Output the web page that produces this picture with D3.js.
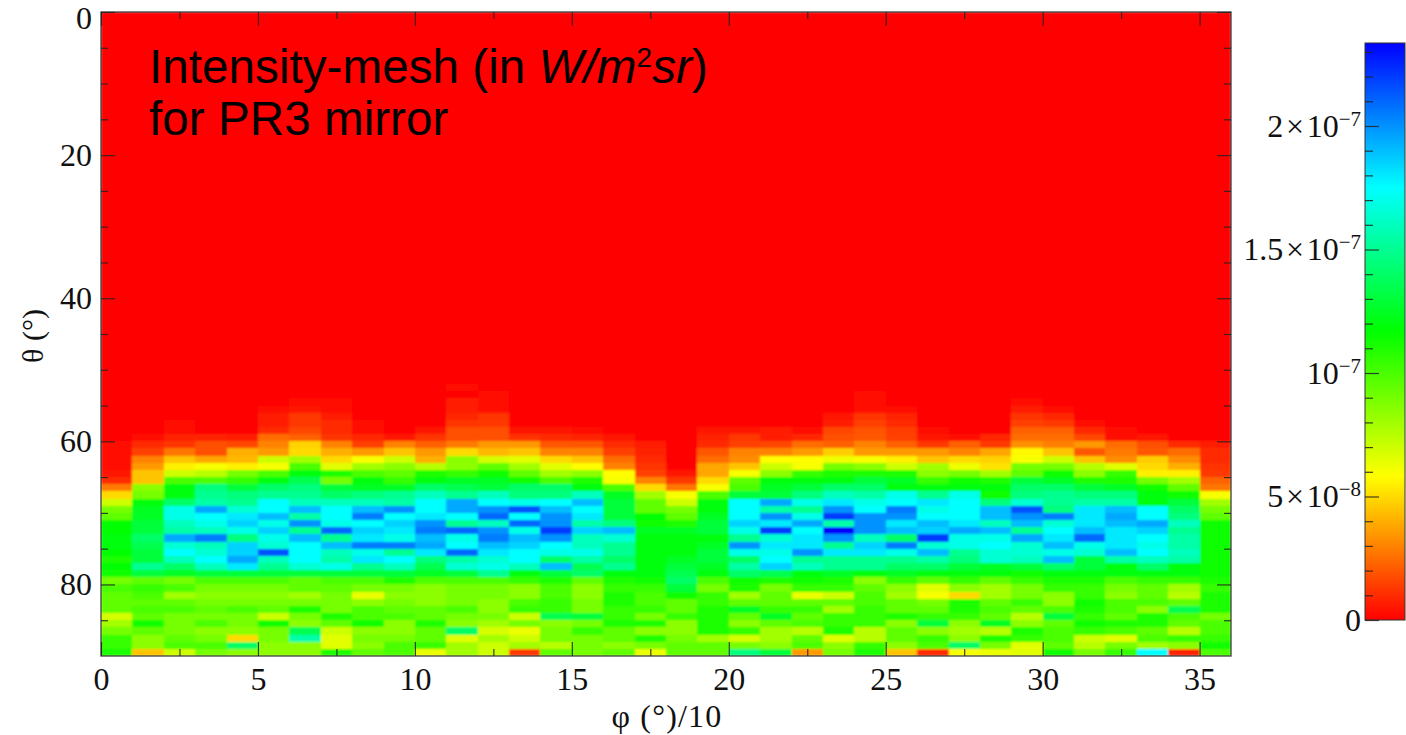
<!DOCTYPE html>
<html>
<head>
<meta charset="utf-8">
<title>Intensity mesh</title>
<script src="https://cdn.jsdelivr.net/npm/d3@7"></script>
<style>
    html, body { margin: 0; padding: 0; background: #fff; }
    svg { display: block; }
    .num { font-family: "Liberation Serif", serif; fill: #111; }
    .note { font-family: "Liberation Sans", Arial, sans-serif; fill: #000; }
</style>
</head>
<body>
<div id="chart"></div>
<script>
// intensity per phi bin, in units of 1e-8 W/m2sr.
// each list ends at theta = 89, everything above its first entry is 0
const phi00 = [.3,.3,.3,.3,.5,1,2.8,5,7,9,9.5,11.7,11.7,12,12,11.7,11,11.7,11.5,9,10,9.5,9.5,9.5,6.8,8,9,10.5,10.5,11]; // from 60
const phi01 = [.3,1,1.5,3,3.5,4.5,4.5,8.5,9,12,12.5,12.5,13,13,14,13.5,13,13,15,13,9.5,10.5,10,9.5,10,9.5,11.5,9.5,8.5,8.5,4.5]; // 59
const phi02 = [.2,.4,.8,1.2,2.7,4.5,5.5,7,10,12,12,14,17,17,16,15.5,19.5,16.5,17.5,16,14,12.5,9,10,8,9.5,10,9,9,9,9.5,10,7]; // 57
const phi03 = [.1,.8,1.8,1.8,3.8,6,7.5,10,14.5,15,15.5,19.5,17.5,17,16,20.5,16,16.5,17.5,16,13,10,9,8.5,9,9.5,9,10,8.5,9,10,9]; // 58
const phi04 = [.7,1.6,4,4.2,5.5,9,10.5,13,14.5,15,16.5,18,18.5,17,14.5,18.5,18.5,19.5,18,13,10,9,8.5,9,10,9,9,8.5,5,14,8.5]; // 59
const phi05 = [.2,.6,.7,1,2.5,3,3.5,7,6,10,12,14,15,17.5,17.5,19,17,18.5,17,16.5,21.5,16,15,13,10,9,8.5,9,9.5,7,11.5,9,9,8.5,8.5]; // 55
const phi06 = [.4,.5,1.3,1.3,1.6,2.2,4.8,5,8,10,12,13.5,14.5,15,16,19,15.5,20,15,19,17.5,17.5,17.5,16.5,13,9.5,9.5,8,9,11,9,8.5,13.5,15.5,8.5,8.5]; // 54
const phi07 = [.2,.3,.7,1,1,1.2,3,4,5,6.5,11,9,13,14,16,17.5,17.5,17,21,15,19,16,15.5,17,13,10,9.5,9,9,9,11,9.5,7,6.5,6.5,11]; // 54
const phi08 = [.2,.4,.9,1.5,3.5,6,8,10,12,12.5,14.5,16,19,20.5,17.5,18.5,18,20.5,17,18,15,13,10,9,6.3,8.5,10,10,11.5,8.5,9,8.5,9.5]; // 57
const phi09 = [.5,3,4.5,7,8.5,9.5,10.5,12.5,15,15.5,20,17.5,18.5,18,17,20.5,15,17.5,16,13,11,9,8.5,9,9.5,10,8.5,8.5,9,10,10]; // 59
const phi10 = [.5,1.2,2.2,3.5,4,7.5,11,12,14,16,17.5,17.5,18,20,20.5,19,19.5,18,14.5,13.5,12.5,10,8.5,8.5,8.5,9.5,9.5,11,9.5,9.5,10.5,6.3]; // 58
const phi11 = [.2,.1,.6,.7,.9,1.2,1.8,1.8,2.8,5,8.5,8.5,10.5,12.5,13.5,15,19.5,19.5,17.5,15,21,17,17.5,21,15.5,16.5,13,10,9,9,9,10,9,8.5,14,6.5,8,8]; // 52
const phi12 = [.2,.4,.3,1.2,1.3,1.8,1.8,3.5,4.2,6.8,9.5,11.5,12.5,13,16,17.5,20,21,16,20,20.5,19,18,16.5,17,15,10,9,9,8.5,8.5,9,8,6.8,8,7,7]; // 53
const phi13 = [.5,1.1,3.5,4.5,6.5,8,9.5,11.5,14,14.5,17,21.5,17.5,21,17,19,18.5,17.5,17.5,16,12,10.5,8.5,8.5,10,10.5,7,9,6.3,7,8,1.3]; // 58
const phi14 = [.5,1,2,3,5,6.5,8,10,14,14.5,17.5,19,20,20,22,20,17.5,17,14,19,13,11,10,10,10.5,10.5,13.5,8.5,9,9,7.5,9.5]; // 58
const phi15 = [.3,.8,2,3,4.5,5.8,8.5,11,12,16,19,17.5,18,15.5,18.5,16,16,17,15.5,13.5,14,9.5,8.5,8.5,9,9,13,9,10.5,9,9,9]; // 58
const phi16 = [.5,1,1.5,2.5,3,5.8,6,10,12.5,13,13,13,14.5,19,16.5,15,15,14,15,12,11,10.5,11,11,10.5,10.5,11,9.5,9.5,8.5,9.5]; // 59
const phi17 = [.6,.8,1,1.2,1.5,3,5,8,9.5,9.5,11.7,11.5,12.5,12,12,12,12,12,12,11.5,10.5,10,10,10.5,9,11,8.5,11,9,6.3]; // 60
const phi18 = [.5,1.3,2.7,6,7,9,9.5,11,12.5,12,12,12,12.5,13,13.5,14,13,11.5,9.5,9.5,10.5,8.5,8.5,9,9.5,9.5]; // 64
const phi19 = [.5,.8,1,2,2.5,3.8,3.8,5,6,10,12,12,12.5,13,13,12,12.5,13,13,12.5,12,10,9,10.5,10.5,11,11,11,11,8,9.5,9.5]; // 58
const phi20 = [.5,1.3,1.5,3,3.2,4.5,6,9.5,10,13,17.5,17.5,17.5,18.5,17,15,20,17,14,15.5,14,11.5,11,8,9.5,12.5,9.5,8.5,10.5,6.8,9,14.5]; // 58
const phi21 = [.7,.7,1.6,3,5.8,7,8.5,12,12.5,13,19.5,15.5,20,18,22,16.5,18,17,17.5,18.5,13.5,11,9,9.5,9.5,10.5,12.5,9.5,8,8,8.5,13]; // 58
const phi22 = [.2,.9,2.5,3.5,5.8,6,10.5,12,13,14.5,17,15,17,19.5,17.5,18,18,20,15,16,12,11.5,10.5,6.3,9.5,10.5,9.5,10,7.5,9.5,10,3.5]; // 58
const phi23 = [.5,.6,1.6,1.8,2.2,4.7,6.2,9,11,12,14,16,18,20,22,15.5,23.3,20,15,18,15,15,12.5,11,10.5,7,9.5,8,10.5,10.5,11,6.5,8.5,9]; // 56
const phi24 = [.2,.3,.4,1.2,1.5,1.9,2,3,3.5,6,8.5,11,13,14,15.5,17,17.5,20,20,20,16,18.5,18,15,15,12,8.5,9.5,10,10,10.5,10.5,10.5,7.5,7.5,10.5,11]; // 53
const phi25 = [.1,.3,.8,1,1.4,1.5,2.2,3.5,5.5,7,11,12.5,12,17,17.5,20.5,20,18,19,14,20.5,17,15,14,12.5,10.5,8.5,8,9.5,9.5,11,8.5,9.5,9.5,8.5,4.5]; // 54
const phi26 = [.3,.5,1.3,3.5,4.5,8,8.5,10.5,12,15,18,17,17.5,19,18.5,22,16.5,19,15.5,14,12,9.5,6.5,6,9,9.5,10.5,13,8.5,10.5,10,1]; // 58
const phi27 = [.2,2.2,3,5,6.2,9,11.5,12,17,17.5,17.5,17.5,18,19.5,17,17,15,14.5,13,12,10.5,8.5,5,11,11,10.5,8.5,8,8.5,14,6]; // 59
const phi28 = [.9,1.3,3.8,4.8,5.2,8,11,12,11.5,14.5,19,19,16,19,17,17.5,16.5,16.5,12.5,12,9.5,8,8,9.5,10,9.5,12.5,7.5,11,9,6.3]; // 59
const phi29 = [.2,.6,1.2,1.5,2.2,2.5,3.3,5.7,6,9,9.5,13,14,14.5,16.5,21.5,20,19,15,19.5,16.5,16.5,16,13,11.5,10.5,9,9,10.5,9.5,7.5,8.5,11,10.5,6.5,6.5]; // 54
const phi30 = [.4,.9,1.3,2.2,2.5,2.9,4.5,7,9,11.5,12.5,14,15,15,14.5,20.5,16.5,17.5,18,19,17,19,14,12,11,10.5,8.5,8.5,10,13,9.5,10,10,9.5,11.5]; // 55
const phi31 = [.2,.9,1.6,3.5,2,4.5,7.5,8.5,11,13,14.5,15.5,18,18,18,19,21,17,16.5,13,13,12,11,10.5,10.5,11.5,11,10.5,11.5,10.5,7,7.5,9]; // 57
const phi32 = [.4,.4,2.5,2.8,3.2,6.5,10.5,11,12.5,14.5,15.5,19,19.5,19,18,18,18,19,15.5,12,12,10,9,8.5,10,10,9.5,11,10,6.5,9,10.5]; // 58
const phi33 = [.5,1.8,2,4.7,5,5.5,9,11.5,12,12,17.5,17.5,19.5,18.5,17.5,17,17.5,16,14,12,10.5,9.5,9.5,10,8.5,11,11,9.5,10,8,17.5]; // 59
const phi34 = [1,2.5,3.2,4,5.5,8,9.5,11.5,13,14,14.5,16,15,15.5,15.5,16,15.5,12,12,10.5,8,7.5,9.5,13.5,10,9.5,7.5,10.5,8.5,.8]; // 60
const phi35 = [.7,1,1,1.1,1.3,2.3,2.7,6,8,9,9.5,11.5,11.5,11.5,11.5,11.5,11.5,11.5,11.5,11,10.5,11,11,11,9,10,10,10.5,11.5,10]; // 60

const phiColumns = [phi00, phi01, phi02, phi03, phi04, phi05, phi06, phi07, phi08, phi09, phi10, phi11,
    phi12, phi13, phi14, phi15, phi16, phi17, phi18, phi19, phi20, phi21, phi22, phi23,
    phi24, phi25, phi26, phi27, phi28, phi29, phi30, phi31, phi32, phi33, phi34, phi35];

const colorStops = [0, 5.84, 11.68, 17.5, 23.36];
const colorNames = ["#ff0000", "#ffff00", "#00ff00", "#00ffff", "#0000ff"];

const phiTicks = [0, 5, 10, 15, 20, 25, 30, 35];
const phiMinor = d3.range(2.5, 36, 5);
const thetaTicks = [0, 20, 40, 60, 80];
const thetaMinor = d3.range(5, 90, 5).filter(d => d % 20 !== 0);
const barTicks = [0, 5, 10, 15, 20];
const barMinor = d3.range(1, 24).filter(d => d % 5 !== 0);
const barLabels = [["0"], ["5\u200A×\u200A10", "−8"], ["10", "−7"], ["1.5\u200A×\u200A10", "−7"], ["2\u200A×\u200A10", "−7"]];

const width = 1406, height = 735;

const svg = d3.select("#chart").append("svg")
    .attr("width", width)
    .attr("height", height);

const x = d3.scaleLinear().domain([0, 36]).range([101, 1231]);
const y = d3.scaleLinear().domain([0, 90]).range([12, 656]);
const color = d3.scaleLinear().domain(colorStops).range(colorNames);

// slight blur, the source is a resampled bitmap
svg.append("defs").append("filter")
    .attr("id", "soft")
    .attr("x", 0).attr("y", 0).attr("width", 1).attr("height", 1)
    .append("feGaussianBlur")
    .attr("stdDeviation", 1);

// turn the column lists into cells
let cells = [];
phiColumns.forEach((list, i) => {
    list.forEach((v, k) => {
        cells.push({phi: i, theta: 90 - list.length + k, value: v});
    });
});

const mesh = svg.append("g").attr("class", "mesh").attr("filter", "url(#soft)");

mesh.append("rect")
    .attr("x", x(0))
    .attr("y", y(0))
    .attr("width", x(36) - x(0))
    .attr("height", y(90) - y(0))
    .attr("fill", color(0));

mesh.selectAll("rect.cell")
    .data(cells)
    .enter()
    .append("rect")
    .attr("class", "cell")
    .attr("x", d => x(d.phi))
    .attr("y", d => y(d.theta))
    .attr("width", d => x(d.phi + 1) - x(d.phi))
    .attr("height", d => y(d.theta + 1) - y(d.theta))
    .attr("fill", d => color(d.value))
    .attr("shape-rendering", "crispEdges");

// axes, ticks point inwards
function styleAxis(g) {
    g.select(".domain").remove();
    g.selectAll("line").attr("stroke", "#222").attr("stroke-width", 1.2).attr("stroke-opacity", 0.85);
    g.selectAll("text").attr("class", "num").style("font-size", "32px").attr("fill", "#111");
}

function addAxis(axisFn, scale, ticks, size, tx, ty, pad, labels) {
    let axis = axisFn(scale).tickValues(ticks).tickSize(-size).tickPadding(pad);
    if (!labels) axis.tickFormat("");
    else axis.tickFormat(d3.format("d"));
    return svg.append("g")
        .attr("transform", "translate(" + tx + ", " + ty + ")")
        .call(axis)
        .call(styleAxis);
}

addAxis(d3.axisBottom, x, phiTicks, 14, 0, y(90), 11, true);
addAxis(d3.axisBottom, x, phiMinor, 7, 0, y(90), 0, false);
addAxis(d3.axisTop, x, phiTicks, 14, 0, y(0), 0, false);
addAxis(d3.axisTop, x, phiMinor, 7, 0, y(0), 0, false);
let thetaAxis = addAxis(d3.axisLeft, y, thetaTicks, 14, x(0), 0, 9, true);
addAxis(d3.axisLeft, y, thetaMinor, 7, x(0), 0, 0, false);
addAxis(d3.axisRight, y, thetaTicks, 14, x(36), 0, 0, false);
addAxis(d3.axisRight, y, thetaMinor, 7, x(36), 0, 0, false);

// the 0 label sits a little below its tick
thetaAxis.selectAll("text")
    .filter(d => d === 0)
    .attr("transform", "translate(0, 6)");

svg.append("rect")
    .attr("x", x(0))
    .attr("y", y(0))
    .attr("width", x(36) - x(0))
    .attr("height", y(90) - y(0))
    .attr("fill", "none")
    .attr("stroke", "#222")
    .attr("stroke-opacity", 0.8)
    .attr("stroke-width", 1.4);

// axis titles
svg.append("text")
    .attr("class", "num")
    .attr("transform", "translate(43, 336) rotate(-90)")
    .attr("text-anchor", "middle")
    .style("font-size", "30px")
    .text("θ (°)");

svg.append("text")
    .attr("class", "num")
    .attr("x", 667)
    .attr("y", 727)
    .attr("text-anchor", "middle")
    .style("font-size", "32px")
    .style("letter-spacing", "1.2px")
    .text("φ (°)/10");

// colorbar
const barY = d3.scaleLinear().domain([0, 23.36]).range([620, 43]);
const barX = 1365, barW = 40;

const grad = svg.select("defs").append("linearGradient")
    .attr("id", "barGradient")
    .attr("x1", "0%").attr("y1", "100%")
    .attr("x2", "0%").attr("y2", "0%");

grad.selectAll("stop")
    .data(colorStops)
    .enter()
    .append("stop")
    .attr("offset", d => (d / 23.36 * 100) + "%")
    .attr("stop-color", d => color(d));

svg.append("rect")
    .attr("x", barX)
    .attr("y", barY(23.36))
    .attr("width", barW)
    .attr("height", barY(0) - barY(23.36))
    .attr("fill", "url(#barGradient)")
    .attr("stroke", "#333")
    .attr("stroke-width", 1);

addAxis(d3.axisLeft, barY, barTicks, 14, barX, 0, 0, false);
addAxis(d3.axisLeft, barY, barMinor, 8, barX, 0, 0, false);

barTicks.forEach((t, i) => {
    let label = svg.append("text")
        .attr("class", "num")
        .attr("x", 1361)
        .attr("y", barY(t) + 11)
        .attr("text-anchor", "end")
        .style("font-size", "32px");
    label.append("tspan").text(barLabels[i][0]);
    if (barLabels[i][1]) {
        label.append("tspan")
            .attr("dy", -11)
            .style("font-size", "21px")
            .text(barLabels[i][1]);
    }
});

// note on top of the mesh
const note = svg.append("g").attr("class", "note");

let line1 = note.append("text")
    .attr("class", "note")
    .attr("x", 149)
    .attr("y", 83)
    .style("font-size", "47.7px");
line1.append("tspan").text("Intensity-mesh (in ");
line1.append("tspan").style("font-style", "italic").text("W/m");
line1.append("tspan").attr("dy", -16).style("font-size", "28px").text("2");
line1.append("tspan").attr("dy", 16).style("font-style", "italic").text("sr");
line1.append("tspan").text(")");

note.append("text")
    .attr("class", "note")
    .attr("x", 149)
    .attr("y", 135)
    .style("font-size", "47.7px")
    .text("for PR3 mirror");
</script>
</body>
</html>
